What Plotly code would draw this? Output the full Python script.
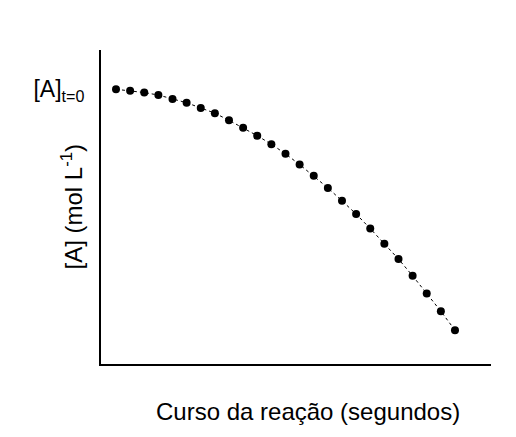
import plotly.graph_objects as go

# Reaction progress (arbitrary time steps) and concentration of A (relative to [A]t=0)
tempo = list(range(25))
concentracao = [1.000, 0.995, 0.988, 0.979, 0.965, 0.951, 0.932, 0.913, 0.887, 0.860,
                0.831, 0.800, 0.765, 0.726, 0.685, 0.641, 0.594, 0.546, 0.493, 0.438,
                0.382, 0.321, 0.257, 0.192, 0.123]

y_tick_vals = [1.0]
y_tick_text = ["[A]<sub>t=0</sub>"]
x_title = "Curso da reação (segundos)"
y_title = "[A] (mol L<sup>-1</sup>)"

font_family = "Liberation Sans, Arial, sans-serif"

fig = go.Figure()
fig.add_trace(go.Scatter(
    x=tempo, y=concentracao,
    mode="lines+markers",
    line=dict(color="black", width=1, dash="dot"),
    marker=dict(color="black", size=8),
    showlegend=False,
    hoverinfo="skip",
))

fig.update_layout(
    width=508, height=429,
    margin=dict(l=93, r=25, t=42, b=73, autoexpand=False),
    plot_bgcolor="white", paper_bgcolor="white",
    font=dict(family=font_family, color="black"),
)

fig.update_xaxes(
    range=[-1.062, 26.55],
    showline=True, linecolor="black", linewidth=2,
    showgrid=False, zeroline=False,
    showticklabels=False, ticks="",
    automargin=False,
)

fig.update_yaxes(
    range=[0, 1.143],
    showline=True, linecolor="black", linewidth=2,
    showgrid=False, zeroline=False,
    tickvals=y_tick_vals, ticktext=y_tick_text,
    tickfont=dict(size=23, family=font_family),
    ticks="", ticklabelstandoff=10,
    automargin=False,
)

# Axis titles placed as in the reference (offset from the usual positions)
fig.add_annotation(
    text=x_title, xref="paper", yref="paper", x=0.531, y=-0.1497,
    xanchor="center", yanchor="middle", showarrow=False,
    font=dict(size=24, family=font_family, color="black"),
)
fig.add_annotation(
    text=y_title, xref="paper", yref="paper", x=-0.0756, y=0.5,
    xanchor="center", yanchor="middle", showarrow=False, textangle=-90,
    font=dict(size=24, family=font_family, color="black"),
)

fig.write_html("out.html")
